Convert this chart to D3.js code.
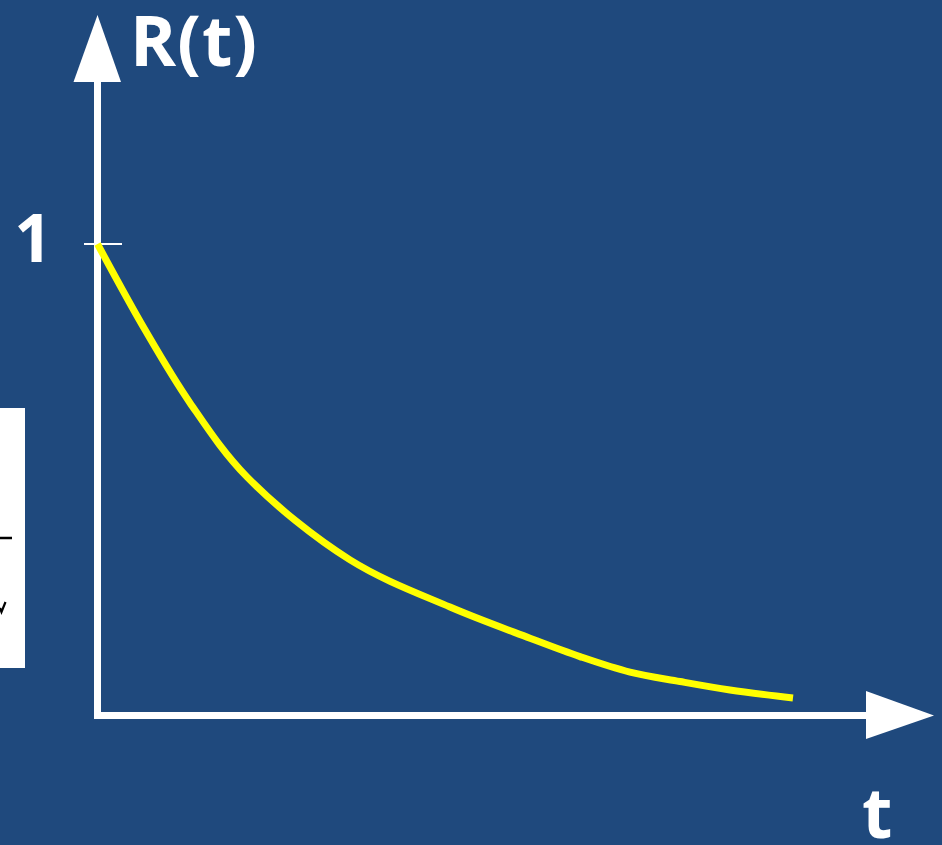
<!DOCTYPE html>
<html><head><meta charset="utf-8">
<script src="https://cdn.jsdelivr.net/npm/d3@7"></script>
<style>html,body{margin:0;padding:0;background:#1f497d;overflow:hidden}</style>
</head><body>
<script>
// data: reliability curve R(t)
const tValues = [0, 0.618, 1.204, 1.945, 3.286, 4.587, 5.628, 6.278, 6.929, 7.579, 8.230, 9.05];
const rValues = [1, 0.818, 0.663, 0.506, 0.330, 0.230, 0.164, 0.125, 0.092, 0.072, 0.054, 0.037];
const yTicks = [1];
const yTickLabels = ["1"];
const yAxisLabel = "R(t)";
const xAxisLabel = "t";

const W = 942, H = 845;
const svg = d3.select("body").append("svg").attr("width", W).attr("height", H);
svg.append("rect").attr("width", W).attr("height", H).attr("fill", "#1f497d");

const x = d3.scaleLinear().domain([0, 10]).range([97.5, 866]);
const y = d3.scaleLinear().domain([0, 1]).range([715.5, 244]);

// left cut-off white box
const box = svg.append("g");
box.append("rect").attr("x", -2).attr("y", 408).attr("width", 27).attr("height", 260).attr("fill", "#ffffff");
box.append("line").attr("x1", 0).attr("x2", 12).attr("y1", 538).attr("y2", 538).attr("stroke", "#000").attr("stroke-width", 2.5);
box.append("path").attr("d", "M0,608 L1.5,612 L5.5,602").attr("fill", "none").attr("stroke", "#000").attr("stroke-width", 2.2);

// axes
const axG = svg.append("g");
axG.append("line").attr("x1", x(0)).attr("x2", x(0)).attr("y1", 80).attr("y2", y(0) + 3.5)
  .attr("stroke", "#fff").attr("stroke-width", 7);
axG.append("line").attr("x1", x(0) - 3.5).attr("x2", 868).attr("y1", y(0)).attr("y2", y(0))
  .attr("stroke", "#fff").attr("stroke-width", 7);
// arrowheads
axG.append("path").attr("d", `M${x(0)},15 L${x(0) + 23.5},82 L${x(0) - 24},82 Z`).attr("fill", "#fff");
axG.append("path").attr("d", `M866,691 L934,${y(0)} L866,739 Z`).attr("fill", "#fff");

// tick at R=1
axG.selectAll(".tick").data(yTicks).join("line")
  .attr("x1", 84).attr("x2", 122).attr("y1", d => y(d)).attr("y2", d => y(d))
  .attr("stroke", "#fff").attr("stroke-width", 2);
axG.selectAll(".tl").data(yTicks).join("text")
  .attr("x", 52).attr("y", d => y(d) + 18).attr("text-anchor", "end")
  .attr("font-family", "Open Sans, sans-serif").attr("font-weight", "bold").attr("font-size", 66)
  .attr("fill", "#fff").text((d, i) => yTickLabels[i]);

// labels
svg.append("text").attr("x", 130).attr("y", 66)
  .attr("font-family", "Open Sans, sans-serif").attr("font-weight", "bold").attr("font-size", 70)
  .attr("letter-spacing", 1)
  .attr("fill", "#fff").text(yAxisLabel);
svg.append("text").attr("x", 862).attr("y", 838)
  .attr("font-family", "Open Sans, sans-serif").attr("font-weight", "bold").attr("font-size", 70)
  .attr("fill", "#fff").text(xAxisLabel);

// curve
const pts = tValues.map((t, i) => [t, rValues[i]]);
svg.append("path").datum(pts)
  .attr("d", d3.line().x(d => x(d[0])).y(d => y(d[1])).curve(d3.curveCatmullRom.alpha(0.5)))
  .attr("fill", "none").attr("stroke", "#ffff00").attr("stroke-width", 7);
</script>
</body></html>
